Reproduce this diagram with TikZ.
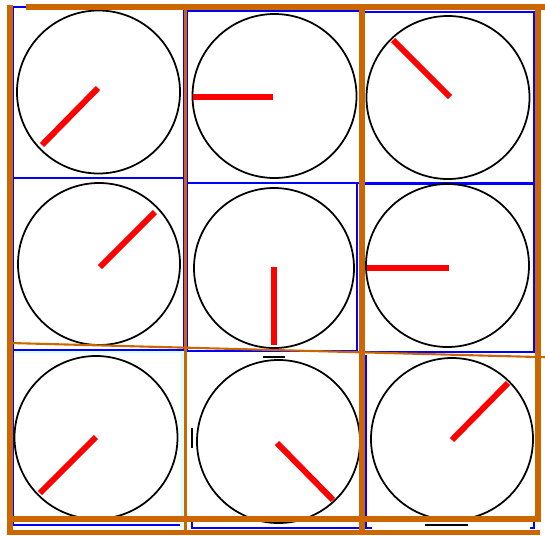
\documentclass[tikz,border=0pt]{standalone}
\definecolor{frameorange}{RGB}{204,102,0}
\definecolor{paleline}{RGB}{215,255,255}
\tikzset{
  cellline/.style={blue, line width=1pt},
  paleedge/.style={paleline, line width=1.6pt},
  dial/.style={black, line width=1pt},
  hand/.style={red, line width=3.4pt},
  boldframe/.style={frameorange, line width=3.2pt},
  thinframe/.style={frameorange, line width=1.2pt}
}
\begin{document}
\begin{tikzpicture}[x=0.02cm, y=-0.02cm]
    \useasboundingbox (0,0) rectangle (545,535);

    % 格子的浅色边
    \draw[paleedge] (13,352) -- (184,352) -- (184,535);
    \draw[paleedge] (182,352) -- (182,535);

    % 蓝色格子
    \foreach \xa/\ya/\xb/\yb in {13/7/184/178, 187/11/360/183, 363/12/534/183,
                                 13/178/184/350, 187/183/357/351, 363/184/534/352}
        \draw[cellline] (\xa,\ya) rectangle (\xb,\yb);
    \draw[cellline] (13,350) -- (13,525) -- (180,525);
    \draw[cellline] (192,520) -- (192,528) -- (365,528) -- (365,357);
    \draw[cellline] (366,355) -- (366,528) -- (372,528);
    \draw[cellline] (530,528) -- (534,528) -- (534,520);

    % 九个表盘
    \foreach \cx/\cy/\r in {98.5/92/81.5, 274.5/96/82, 448/97.5/81.5,
                            99/264/81, 274/268/80, 447.5/265.5/81.5,
                            96/437.5/81.5, 278.5/441.5/81.5, 452/439/81}
        \draw[dial] (\cx,\cy) circle[radius=\r];

    % 表盘旁的小短线
    \draw[dial] (263,357) -- (285,357);
    \draw[dial] (192,428) -- (192,448);
    \draw[dial] (425,525) -- (468,525);

    % 红色指针
    \foreach \ax/\ay/\bx/\by in {98/88/42/145, 273/97/193/97, 450/97/393/40,
                                 100/267/155/212, 274/267/274/345, 449/268/367/268,
                                 96/437/40/493, 277/443/333/500, 452/440/508/383}
        \draw[hand] (\ax,\ay) -- (\bx,\by);

    % 橙色框线
    \draw[boldframe] (26,7) -- (545,7);
    \draw[boldframe] (10,5) -- (10,535);
    \draw[boldframe] (362,4) -- (362,535);
    \draw[boldframe] (538,4) -- (538,521);
    \draw[boldframe] (10,519) -- (541,519);
    \draw[boldframe] (10,532.5) -- (540,532.5);
    \draw[thinframe] (185.5,10) -- (185.5,535);
    \draw[thinframe] (10,343) -- (545,357.2);
\end{tikzpicture}
\end{document}
